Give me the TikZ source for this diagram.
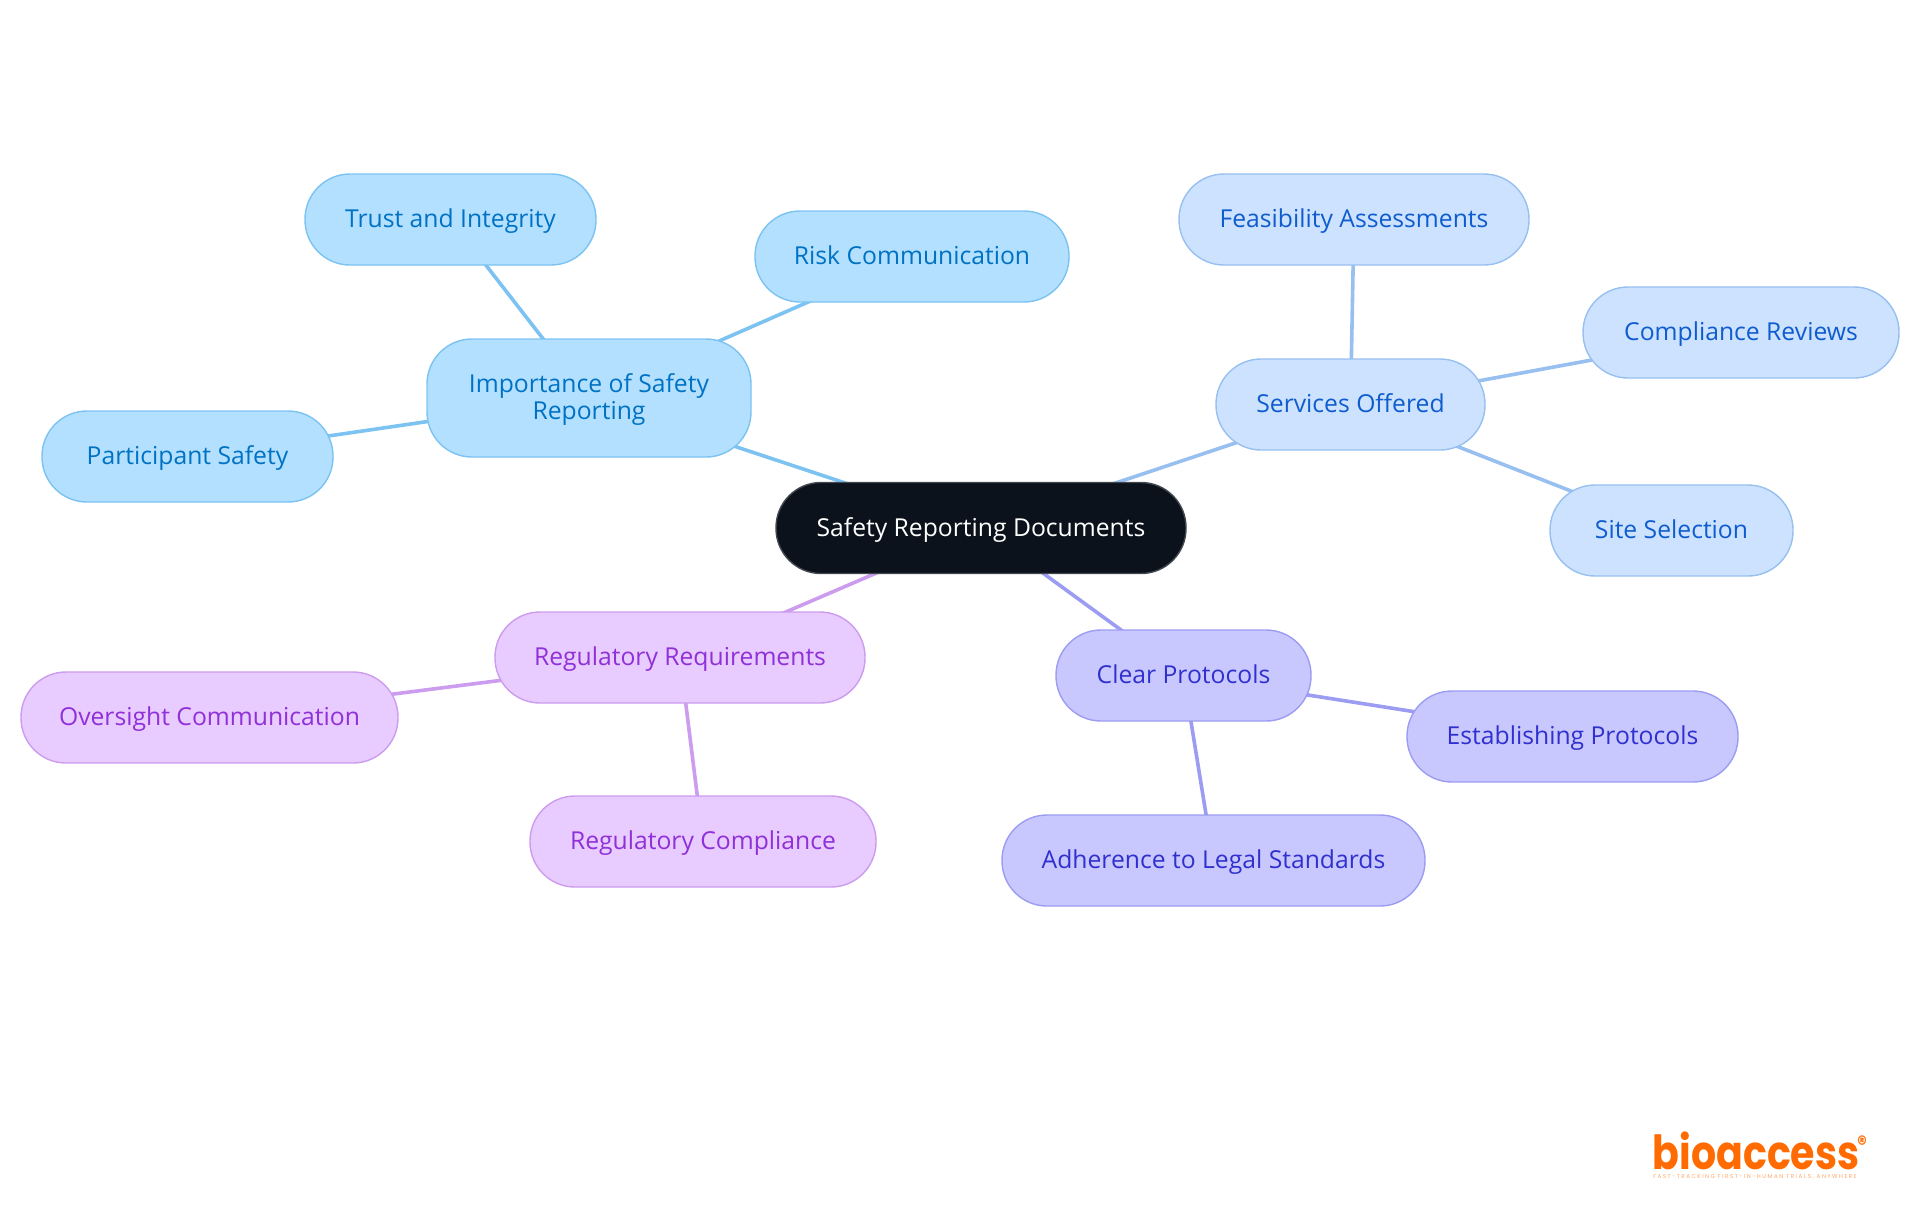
\documentclass[tikz,border=0pt]{standalone}
\usepackage{fontspec}
\setmainfont{Open Sans}
\newfontfamily\logofont{Poppins}[FakeStretch=0.84]
\newfontfamily\taglinefont{Poppins}[LetterSpace=27]
\usetikzlibrary{backgrounds}
\definecolor{rootfill}{HTML}{0B121B}
\definecolor{rootline}{HTML}{43484E}
\definecolor{skyfill}{HTML}{B3E0FF}
\definecolor{skyline}{HTML}{7CC3F2}
\definecolor{skytext}{HTML}{0072C4}
\definecolor{palefill}{HTML}{CCE2FF}
\definecolor{paleline}{HTML}{97C0F0}
\definecolor{paletext}{HTML}{0F5CCF}
\definecolor{indigofill}{HTML}{C8C8FF}
\definecolor{indigoline}{HTML}{9C9CF2}
\definecolor{indigotext}{HTML}{3030CF}
\definecolor{violetfill}{HTML}{E8CBFF}
\definecolor{violetline}{HTML}{CC9CEE}
\definecolor{violettext}{HTML}{9030D8}
\definecolor{logoorange}{HTML}{FF6B00}
\tikzset{
  pill/.style={rounded corners=22.5pt, minimum height=45.5pt, inner sep=0pt, line width=0.7pt, align=center, text height=11pt, text depth=3pt, font=\fontsize{12.35}{13.5}\selectfont},
  rootpill/.style={pill, draw=rootline, fill=rootfill, text=white},
  skypill/.style={pill, draw=skyline, fill=skyfill, text=skytext},
  palepill/.style={pill, draw=paleline, fill=palefill, text=paletext},
  indigopill/.style={pill, draw=indigoline, fill=indigofill, text=indigotext},
  violetpill/.style={pill, draw=violetline, fill=violetfill, text=violettext},
  link/.style={line width=1.8pt}
}
\begin{document}
\begin{tikzpicture}[x=0.5pt,y=-0.5pt]
\useasboundingbox (0,0) rectangle (1920,1215);

\node [rootpill, minimum width=205pt] (root) at (981,528) {Safety Reporting Documents};

\node [skypill, minimum width=162pt, minimum height=59pt, text height=24pt] (importance) at (589,398) {Importance of Safety\\Reporting};
\node [skypill, minimum width=145.5pt] (trust) at (450.5,219.5) {Trust and Integrity};
\node [skypill, minimum width=157pt] (risk) at (912,256.5) {Risk Communication};
\node [skypill, minimum width=145.5pt] (participant) at (187.5,456.5) {Participant Safety};

\node [palepill, minimum width=134.5pt] (services) at (1350.5,404.5) {Services Offered};
\node [palepill, minimum width=175pt] (feasibility) at (1354,219.5) {Feasibility Assessments};
\node [palepill, minimum width=158pt] (reviews) at (1741,332.5) {Compliance Reviews};
\node [palepill, minimum width=121.5pt] (site) at (1671.5,530.5) {Site Selection};

\node [indigopill, minimum width=127.5pt] (protocols) at (1183.5,675.5) {Clear Protocols};
\node [indigopill, minimum width=165.5pt] (establishing) at (1572.5,736.5) {Establishing Protocols};
\node [indigopill, minimum width=211.5pt] (adherence) at (1213.5,860.5) {Adherence to Legal Standards};

\node [violetpill, minimum width=185pt] (requirements) at (680,657.5) {Regulatory Requirements};
\node [violetpill, minimum width=188.5pt] (oversight) at (209.5,717.5) {Oversight Communication};
\node [violetpill, minimum width=173pt] (compliance) at (703,841.5) {Regulatory Compliance};

\begin{pgfonlayer}{background}
\foreach \a/\b in {root/importance, importance/trust, importance/risk, importance/participant}
  \draw [link, skyline] (\a.center) -- (\b.center);
\foreach \a/\b in {root/services, services/feasibility, services/reviews, services/site}
  \draw [link, paleline] (\a.center) -- (\b.center);
\foreach \a/\b in {root/protocols, protocols/establishing, protocols/adherence}
  \draw [link, indigoline] (\a.center) -- (\b.center);
\foreach \a/\b in {root/requirements, requirements/oversight, requirements/compliance}
  \draw [link, violetline] (\a.center) -- (\b.center);
\end{pgfonlayer}

\node [text=logoorange, inner sep=0pt, font=\logofont\bfseries\fontsize{23.5}{24}\selectfont] (logo) at (1756,1151) {bioaccess};
\node [text=logoorange, inner sep=0pt, font=\logofont\bfseries\fontsize{11}{11}\selectfont] (mark) at (1862,1144) {®};
\node [text=logoorange!60, inner sep=0pt, font=\taglinefont\fontsize{2.8}{3}\selectfont] (tagline) at (1755,1177) {FAST-TRACKING FIRST-IN-HUMAN TRIALS, ANYWHERE};
\end{tikzpicture}
\end{document}
